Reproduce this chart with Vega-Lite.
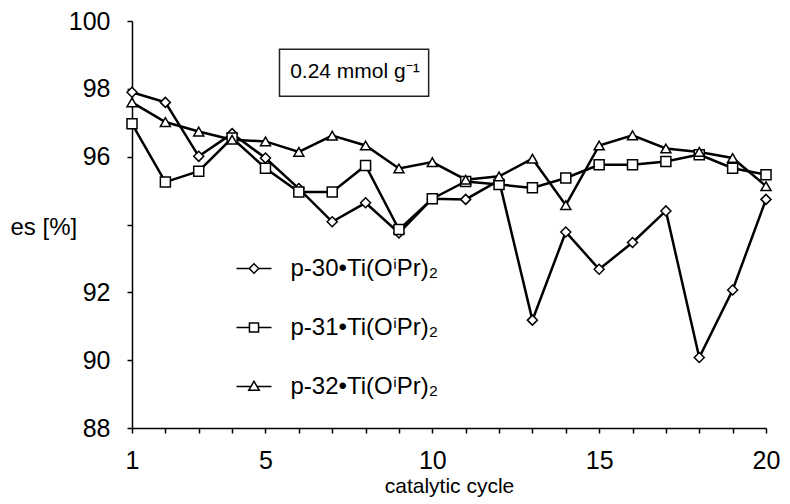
{
  "$schema": "https://vega.github.io/schema/vega-lite/v6.json",
  "width": 634,
  "height": 407,
  "autosize": "none",
  "padding": {"left": 132, "top": 21, "right": 24, "bottom": 76},
  "background": "white",
  "config": {
    "view": {"stroke": null},
    "font": "Liberation Sans",
    "point": {"opacity": 1},
    "axis": {
      "grid": false,
      "domainColor": "black",
      "domainWidth": 1.5,
      "tickColor": "black",
      "tickWidth": 1.5,
      "tickSize": 5,
      "labelColor": "black",
      "labelFont": "Liberation Sans",
      "labelFontSize": 25,
      "labelOverlap": false,
      "labelFlush": false,
      "titleFont": "Liberation Sans",
      "titleFontWeight": "normal",
      "titleColor": "black",
      "titleFontSize": 21
    }
  },
  "data": {
    "values": [
      {"cycle": 1, "series": "p-30•Ti(OⁱPr)₂", "es": 97.9},
      {"cycle": 2, "series": "p-30•Ti(OⁱPr)₂", "es": 97.6},
      {"cycle": 3, "series": "p-30•Ti(OⁱPr)₂", "es": 96.01},
      {"cycle": 4, "series": "p-30•Ti(OⁱPr)₂", "es": 96.68},
      {"cycle": 5, "series": "p-30•Ti(OⁱPr)₂", "es": 95.96},
      {"cycle": 6, "series": "p-30•Ti(OⁱPr)₂", "es": 95.06},
      {"cycle": 7, "series": "p-30•Ti(OⁱPr)₂", "es": 94.08},
      {"cycle": 8, "series": "p-30•Ti(OⁱPr)₂", "es": 94.64},
      {"cycle": 9, "series": "p-30•Ti(OⁱPr)₂", "es": 93.75},
      {"cycle": 10, "series": "p-30•Ti(OⁱPr)₂", "es": 94.76},
      {"cycle": 11, "series": "p-30•Ti(OⁱPr)₂", "es": 94.74},
      {"cycle": 12, "series": "p-30•Ti(OⁱPr)₂", "es": 95.3},
      {"cycle": 13, "series": "p-30•Ti(OⁱPr)₂", "es": 91.18},
      {"cycle": 14, "series": "p-30•Ti(OⁱPr)₂", "es": 93.78},
      {"cycle": 15, "series": "p-30•Ti(OⁱPr)₂", "es": 92.68},
      {"cycle": 16, "series": "p-30•Ti(OⁱPr)₂", "es": 93.47},
      {"cycle": 17, "series": "p-30•Ti(OⁱPr)₂", "es": 94.4},
      {"cycle": 18, "series": "p-30•Ti(OⁱPr)₂", "es": 90.08},
      {"cycle": 19, "series": "p-30•Ti(OⁱPr)₂", "es": 92.07},
      {"cycle": 20, "series": "p-30•Ti(OⁱPr)₂", "es": 94.74},
      {"cycle": 1, "series": "p-31•Ti(OⁱPr)₂", "es": 96.97},
      {"cycle": 2, "series": "p-31•Ti(OⁱPr)₂", "es": 95.25},
      {"cycle": 3, "series": "p-31•Ti(OⁱPr)₂", "es": 95.57},
      {"cycle": 4, "series": "p-31•Ti(OⁱPr)₂", "es": 96.55},
      {"cycle": 5, "series": "p-31•Ti(OⁱPr)₂", "es": 95.66},
      {"cycle": 6, "series": "p-31•Ti(OⁱPr)₂", "es": 94.96},
      {"cycle": 7, "series": "p-31•Ti(OⁱPr)₂", "es": 94.96},
      {"cycle": 8, "series": "p-31•Ti(OⁱPr)₂", "es": 95.74},
      {"cycle": 9, "series": "p-31•Ti(OⁱPr)₂", "es": 93.85},
      {"cycle": 10, "series": "p-31•Ti(OⁱPr)₂", "es": 94.76},
      {"cycle": 11, "series": "p-31•Ti(OⁱPr)₂", "es": 95.27},
      {"cycle": 12, "series": "p-31•Ti(OⁱPr)₂", "es": 95.18},
      {"cycle": 13, "series": "p-31•Ti(OⁱPr)₂", "es": 95.08},
      {"cycle": 14, "series": "p-31•Ti(OⁱPr)₂", "es": 95.37},
      {"cycle": 15, "series": "p-31•Ti(OⁱPr)₂", "es": 95.76},
      {"cycle": 16, "series": "p-31•Ti(OⁱPr)₂", "es": 95.76},
      {"cycle": 17, "series": "p-31•Ti(OⁱPr)₂", "es": 95.86},
      {"cycle": 18, "series": "p-31•Ti(OⁱPr)₂", "es": 96.06},
      {"cycle": 19, "series": "p-31•Ti(OⁱPr)₂", "es": 95.66},
      {"cycle": 20, "series": "p-31•Ti(OⁱPr)₂", "es": 95.47},
      {"cycle": 1, "series": "p-32•Ti(OⁱPr)₂", "es": 97.6},
      {"cycle": 2, "series": "p-32•Ti(OⁱPr)₂", "es": 97.02},
      {"cycle": 3, "series": "p-32•Ti(OⁱPr)₂", "es": 96.74},
      {"cycle": 4, "series": "p-32•Ti(OⁱPr)₂", "es": 96.5},
      {"cycle": 5, "series": "p-32•Ti(OⁱPr)₂", "es": 96.45},
      {"cycle": 6, "series": "p-32•Ti(OⁱPr)₂", "es": 96.14},
      {"cycle": 7, "series": "p-32•Ti(OⁱPr)₂", "es": 96.62},
      {"cycle": 8, "series": "p-32•Ti(OⁱPr)₂", "es": 96.33},
      {"cycle": 9, "series": "p-32•Ti(OⁱPr)₂", "es": 95.65},
      {"cycle": 10, "series": "p-32•Ti(OⁱPr)₂", "es": 95.84},
      {"cycle": 11, "series": "p-32•Ti(OⁱPr)₂", "es": 95.32},
      {"cycle": 12, "series": "p-32•Ti(OⁱPr)₂", "es": 95.42},
      {"cycle": 13, "series": "p-32•Ti(OⁱPr)₂", "es": 95.94},
      {"cycle": 14, "series": "p-32•Ti(OⁱPr)₂", "es": 94.57},
      {"cycle": 15, "series": "p-32•Ti(OⁱPr)₂", "es": 96.33},
      {"cycle": 16, "series": "p-32•Ti(OⁱPr)₂", "es": 96.63},
      {"cycle": 17, "series": "p-32•Ti(OⁱPr)₂", "es": 96.24},
      {"cycle": 18, "series": "p-32•Ti(OⁱPr)₂", "es": 96.14},
      {"cycle": 19, "series": "p-32•Ti(OⁱPr)₂", "es": 95.96},
      {"cycle": 20, "series": "p-32•Ti(OⁱPr)₂", "es": 95.13}
    ]
  },
  "layer": [
    {
      "mark": {"type": "line", "color": "black", "strokeWidth": 2.5},
      "encoding": {
        "x": {
          "field": "cycle",
          "type": "quantitative",
          "scale": {"domain": [1, 20], "nice": false, "zero": false},
          "axis": {
            "title": "catalytic cycle",
            "values": [1, 2, 3, 4, 5, 6, 7, 8, 9, 10, 11, 12, 13, 14, 15, 16, 17, 18, 19, 20],
            "tickCount": 20,
            "labelExpr": "indexof([1, 5, 10, 15, 20], datum.value) >= 0 ? datum.label : ''",
            "labelPadding": 15,
            "titlePadding": 2,
            "labelFlush": false,
            "labelOverlap": false
          }
        },
        "y": {
          "field": "es",
          "type": "quantitative",
          "scale": {"domain": [88, 100], "nice": false, "zero": false},
          "axis": {
            "title": "es [%]",
            "values": [88, 90, 92, 94, 96, 98, 100],
            "tickCount": 7,
            "labelExpr": "datum.value == 94 ? '' : datum.label",
            "labelPadding": 17,
            "labelFlush": false,
            "labelOverlap": false,
            "titleAngle": 0,
            "titleAlign": "left",
            "titleBaseline": "middle",
            "titleX": -122,
            "titleY": 206,
            "titleFontSize": 24
          }
        },
        "detail": {"field": "series", "type": "nominal"}
      }
    },
    {
      "mark": {"type": "point", "filled": true, "fill": "white", "stroke": "black", "strokeWidth": 1.5, "size": 100},
      "encoding": {
        "x": {"field": "cycle", "type": "quantitative"},
        "y": {"field": "es", "type": "quantitative"},
        "shape": {
          "field": "series",
          "type": "nominal",
          "scale": {"range": ["diamond", "square", "triangle-up"]},
          "legend": null
        }
      }
    },
    {
      "mark": {"type": "point", "filled": true, "fill": "white", "stroke": "black", "strokeWidth": 2, "size": 0},
      "encoding": {
        "x": {"field": "cycle", "type": "quantitative"},
        "y": {"field": "es", "type": "quantitative"},
        "shape": {
          "field": "series",
          "type": "nominal",
          "scale": {"range": [
            "M-1,0L-0.27,0M0.27,0L1,0M-0.27,0L0,-0.27L0.27,0L0,0.27Z",
            "M-1,0L-0.26,0M0.26,0L1,0M-0.26,-0.26L0.26,-0.26L0.26,0.26L-0.26,0.26Z",
            "M-1,0L-0.17,0M0.17,0L1,0M0,-0.3L0.3,0.22L-0.3,0.22Z"
          ]},
          "legend": {
            "title": null,
            "orient": "none",
            "legendX": 103.5,
            "legendY": 229,
            "symbolSize": 1225,
            "labelFontSize": 24,
            "labelFont": "Liberation Sans",
            "labelColor": "black",
            "labelOffset": 18,
            "rowPadding": 28,
            "labelLimit": 400
          }
        }
      }
    },
    {
      "data": {"values": [{"note": "0.24 mmol g⁻¹"}]},
      "mark": {"type": "rect", "fill": "white", "stroke": "#222222", "strokeWidth": 1.5},
      "encoding": {
        "x": {"datum": 5.42},
        "x2": {"datum": 9.89},
        "y": {"datum": 97.78},
        "y2": {"datum": 99.17}
      }
    },
    {
      "data": {"values": [{"note": "0.24 mmol g⁻¹"}]},
      "mark": {"type": "text", "fontSize": 21, "font": "Liberation Sans", "color": "black", "align": "center", "baseline": "middle"},
      "encoding": {
        "x": {"datum": 7.68},
        "y": {"datum": 98.5},
        "text": {"field": "note", "type": "nominal"}
      }
    }
  ],
  "resolve": {"scale": {"shape": "independent"}}
}
